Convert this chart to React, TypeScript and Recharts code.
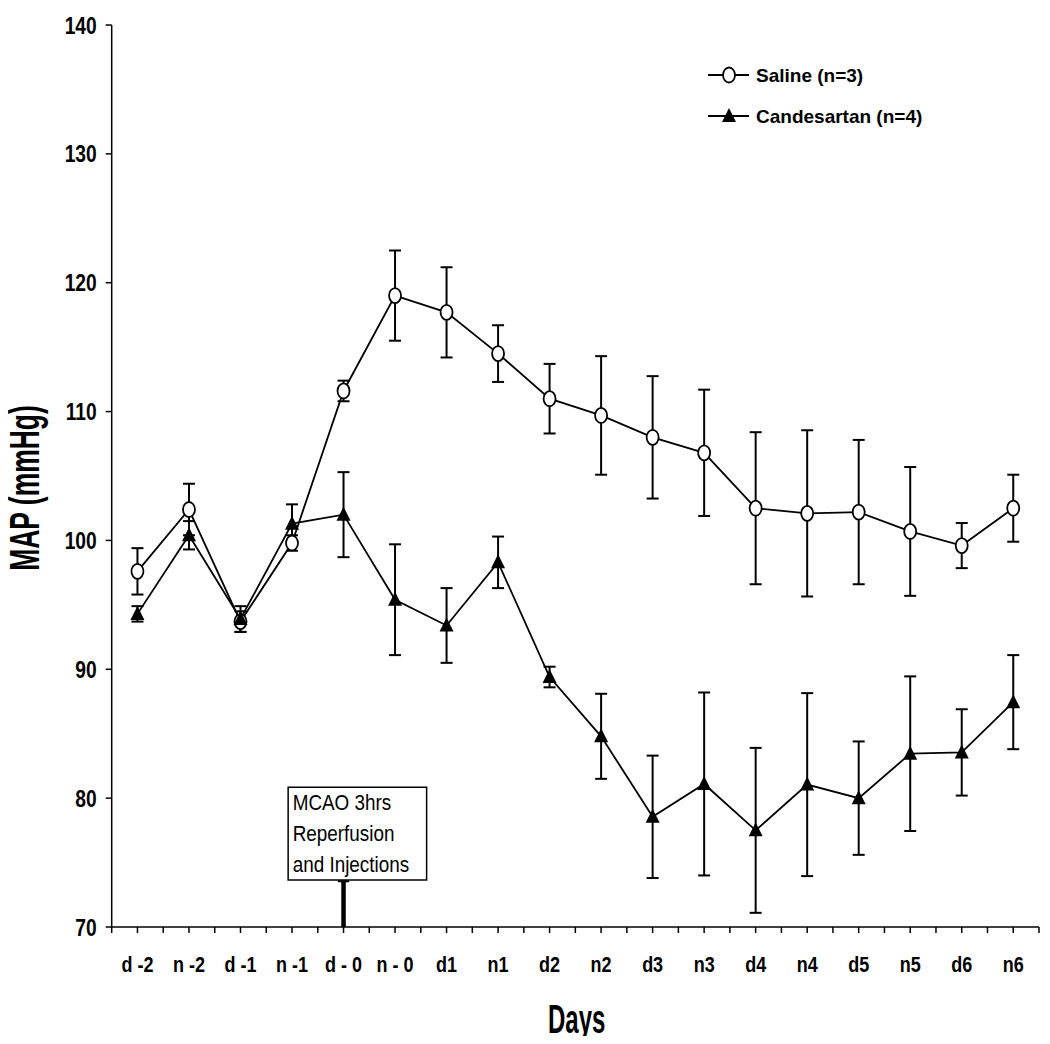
import React from "react";
import {
  ErrorBar,
  Legend,
  Line,
  LineChart,
  ReferenceArea,
  ReferenceLine,
  XAxis,
  YAxis,
} from "recharts";

const categories = [
  "d -2", "n -2", "d -1", "n -1", "d - 0", "n - 0", "d1", "n1", "d2",
  "n2", "d3", "n3", "d4", "n4", "d5", "n5", "d6", "n6",
];
const salineMean = [97.6, 102.4, 93.7, 99.8, 111.6, 119.0, 117.7, 114.5, 111.0, 109.7, 108.0, 106.8, 102.5, 102.1, 102.2, 100.7, 99.6, 102.5];
const salineErr = [1.8, 2.0, 0.8, 0.6, 0.8, 3.5, 3.5, 2.2, 2.7, 4.6, 4.75, 4.9, 5.9, 6.45, 5.6, 5.0, 1.75, 2.6];
const candesartanMean = [94.3, 100.4, 93.9, 101.3, 102.0, 95.4, 93.4, 98.3, 89.4, 84.8, 78.55, 81.1, 77.5, 81.05, 80.0, 83.45, 83.55, 87.45];
const candesartanErr = [0.6, 1.1, 1.0, 1.5, 3.3, 4.3, 2.9, 2.0, 0.8, 3.3, 4.75, 7.1, 6.4, 7.1, 4.4, 6.0, 3.35, 3.65];
const yTicks = [70, 80, 90, 100, 110, 120, 130, 140];

const data = categories.map((day, i) => ({
  x: i,
  day,
  saline: salineMean[i],
  salineErr: salineErr[i],
  cand: candesartanMean[i],
  candErr: candesartanErr[i],
}));

// ticks at every category centre and band edge
const xTicks = categories.flatMap((_, i) => (i === 0 ? [i - 0.5, i, i + 0.5] : [i, i + 0.5]));

const FONT = "'Liberation Sans', Arial, Helvetica, sans-serif";

function CircleDot(props: any) {
  const { cx, cy, index } = props;
  if (cx == null || cy == null) return null;
  return <ellipse key={`s-${index}`} cx={cx} cy={cy} rx={6} ry={7.5} fill="#fff" stroke="#000" strokeWidth={1.8} />;
}

function TriangleDot(props: any) {
  const { cx, cy, index } = props;
  if (cx == null || cy == null) return null;
  return <path key={`c-${index}`} d={`M${cx},${cy - 8} L${cx + 7},${cy + 6} L${cx - 7},${cy + 6} Z`} fill="#000" />;
}

function XTick({ x, y, payload }: any) {
  if (!Number.isInteger(payload.value)) return null;
  return (
    <g transform={`translate(${x},${y})`}>
      <text transform="scale(0.8,1)" x={0} y={0} dy={39.5} textAnchor="middle" fontFamily={FONT} fontWeight="bold" fontSize={22.5} fill="#000">
        {categories[payload.value]}
      </text>
    </g>
  );
}

function YTick({ x, y, payload }: any) {
  return (
    <g transform={`translate(${x},${y})`}>
      <text transform="scale(0.8,1)" x={0} y={0} dy={8.6} textAnchor="end" fontFamily={FONT} fontWeight="bold" fontSize={24} fill="#000">
        {payload.value}
      </text>
    </g>
  );
}

function YTitle() {
  return (
    <g transform="translate(31,480) rotate(-90)">
      <text transform="scale(0.63,1)" x={0} y={0} textAnchor="middle" fontFamily={FONT} fontWeight="bold" fontSize={42} fill="#000">
        MAP (mmHg)
      </text>
    </g>
  );
}

function XTitle() {
  return (
    <g transform="translate(568.7,1025)">
      <text transform="scale(0.6,1)" x={0} y={0} textAnchor="middle" fontFamily={FONT} fontWeight="bold" fontSize={40} fill="#000">
        Days
      </text>
    </g>
  );
}

function BoxText({ viewBox }: any) {
  if (!viewBox) return null;
  const lines = ["MCAO 3hrs", "Reperfusion", "and Injections"];
  return (
    <g transform={`translate(${viewBox.x + 4.5},${viewBox.y})`}>
      {lines.map((t, i) => (
        <text key={t} transform="scale(0.84,1)" x={0} y={23 + i * 30.9} fontFamily={FONT} fontSize={22.5} fill="#000">
          {t}
        </text>
      ))}
    </g>
  );
}

function LegendBox() {
  return (
    <svg width={240} height={80} style={{ display: "block" }}>
      <line x1={5} x2={46} y1={22} y2={22} stroke="#000" strokeWidth={1.8} />
      <ellipse cx={26} cy={22} rx={6} ry={7.5} fill="#fff" stroke="#000" strokeWidth={1.8} />
      <text x={53} y={29} fontFamily={FONT} fontWeight="bold" fontSize={19} fill="#000">Saline (n=3)</text>
      <line x1={5} x2={46} y1={63} y2={63} stroke="#000" strokeWidth={1.8} />
      <path d="M26,55 L33,69 L19,69 Z" fill="#000" />
      <text x={53} y={70} fontFamily={FONT} fontWeight="bold" fontSize={19} fill="#000">Candesartan (n=4)</text>
    </svg>
  );
}

export default function App() {
  return (
    <div style={{ width: 1034, height: 1036, marginBottom: -8 }}>
      <LineChart
        width={1034}
        height={1036}
        data={data}
        margin={{ top: 17, right: 3, bottom: 0, left: 0 }}
      >
        <XAxis
          dataKey="x"
          type="number"
          domain={[-0.5, 17.5]}
          ticks={xTicks}
          interval={0}
          height={117}
          tickSize={6}
          tickMargin={0}
          tick={<XTick />}
          axisLine={{ stroke: "#000", strokeWidth: 1.5 }}
          tickLine={{ stroke: "#000", strokeWidth: 1.5 }}
          label={<XTitle />}
        />
        <YAxis
          type="number"
          domain={[70, 140]}
          ticks={yTicks}
          interval={0}
          width={103.7}
          tickSize={6}
          tickMargin={9}
          tick={<YTick />}
          axisLine={{ stroke: "#000", strokeWidth: 1.5 }}
          tickLine={{ stroke: "#000", strokeWidth: 1.5 }}
          label={<YTitle />}
        />
        <ReferenceArea
          x1={2.925}
          x2={5.613}
          y1={73.65}
          y2={80.84}
          fill="#fff"
          fillOpacity={1}
          stroke="#000"
          strokeWidth={1.5}
          label={<BoxText />}
        />
        <ReferenceLine segment={[{ x: 4, y: 70 }, { x: 4, y: 73.55 }]} stroke="#000" strokeWidth={4.5} />
        <ReferenceLine segment={[{ x: 3.89, y: 73.55 }, { x: 4.11, y: 73.55 }]} stroke="#000" strokeWidth={2} />
        <Line
          type="linear"
          dataKey="saline"
          stroke="#000"
          strokeWidth={1.8}
          dot={CircleDot}
          activeDot={false}
          isAnimationActive={false}
        >
          <ErrorBar dataKey="salineErr" width={6} stroke="#000" strokeWidth={2} />
        </Line>
        <Line
          type="linear"
          dataKey="cand"
          stroke="#000"
          strokeWidth={1.8}
          dot={TriangleDot}
          activeDot={false}
          isAnimationActive={false}
        >
          <ErrorBar dataKey="candErr" width={6} stroke="#000" strokeWidth={2} />
        </Line>
        <Legend
          layout="vertical"
          align="center"
          verticalAlign="middle"
          wrapperStyle={{ left: 695, top: 45, width: 240, height: 80 }}
          content={() => <LegendBox />}
        />
      </LineChart>
    </div>
  );
}
